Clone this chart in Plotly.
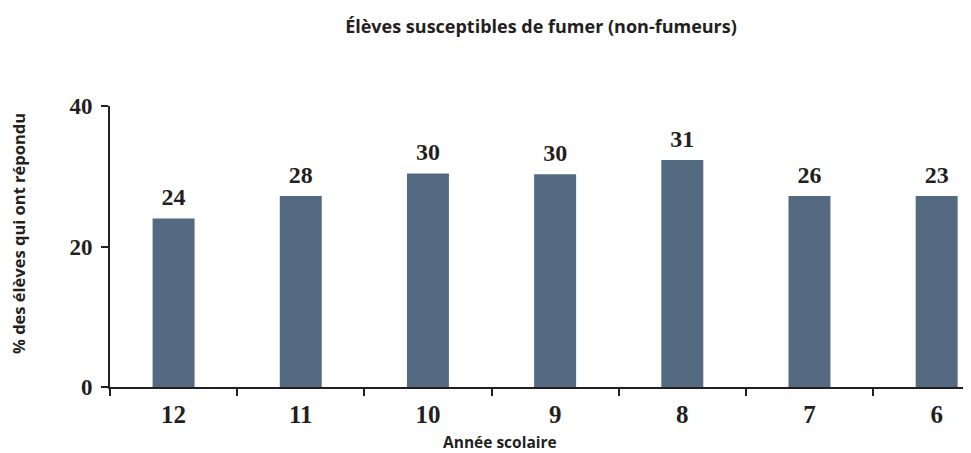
import plotly.graph_objects as go

grades = ["12", "11", "10", "9", "8", "7", "6"]
bar_values = [24.0, 27.2, 30.4, 30.3, 32.3, 27.2, 27.2]
bar_labels = ["24", "28", "30", "30", "31", "26", "23"]
y_ticks = [0, 20, 40]

title_text = "Élèves susceptibles de fumer (non-fumeurs)"
x_title = "Année scolaire"
y_title = "% des élèves qui ont répondu"

bar_color = "#546a80"
ink = "#231f20"
serif = "Liberation Serif, Times New Roman, serif"
sans = "Open Sans, Lato, sans-serif"

# page is shown with an 8px body margin; figure is sized to fill the rest
W, H = 963, 445
L, T, B = 102, 98, 66
PW, PH = W - L, H - T - B

fig = go.Figure()
fig.add_trace(go.Bar(
    x=grades, y=bar_values,
    marker=dict(color=bar_color, line=dict(width=0)),
    width=0.33, hoverinfo="skip",
))
fig.add_trace(go.Scatter(
    x=grades, y=bar_values, mode="markers+text",
    text=["<b>" + s + "</b>" for s in bar_labels], textposition="top center",
    marker=dict(size=10, opacity=0), cliponaxis=False, hoverinfo="skip",
    textfont=dict(family=serif, size=24, color=ink),
))

fig.update_layout(
    width=W, height=H,
    margin=dict(l=L, r=0, t=T, b=B, autoexpand=False),
    paper_bgcolor="white", plot_bgcolor="white",
    showlegend=False,
    title=dict(text="<b>" + title_text + "</b>", x=533 / W, xanchor="center",
               y=1 - 19 / H, yanchor="middle", yref="container",
               font=dict(family=sans, size=18, color=ink)),
    xaxis=dict(type="category", range=[-0.5, 6.27], tickson="boundaries",
               ticks="outside", ticklen=7, tickwidth=2, tickcolor=ink,
               showline=True, linecolor=ink, linewidth=2, showgrid=False,
               tickfont=dict(family=serif, size=25, color=ink, weight="bold"),
               ticklabelstandoff=4),
    yaxis=dict(range=[0, 40], tickvals=y_ticks, ticks="outside", ticklen=7,
               tickwidth=2, tickcolor=ink, showline=True, linecolor=ink,
               linewidth=2, showgrid=False, zeroline=False,
               tickfont=dict(family=serif, size=23, color=ink, weight="bold"),
               ticklabelstandoff=4),
)

fig.add_annotation(text="<b>" + x_title + "</b>", xref="paper", yref="paper",
                   x=(492 - L) / PW, y=-(434 - (T + PH)) / PH,
                   xanchor="center", yanchor="middle", showarrow=False,
                   font=dict(family=sans, size=15.5, color=ink))
fig.add_annotation(text="<b>" + y_title + "</b>", xref="paper", yref="paper",
                   x=-(L - 10) / PW, y=(T + PH - 226) / PH,
                   xanchor="center", yanchor="middle", showarrow=False,
                   textangle=-90, font=dict(family=sans, size=16.5, color=ink))

fig.write_html("out.html")
